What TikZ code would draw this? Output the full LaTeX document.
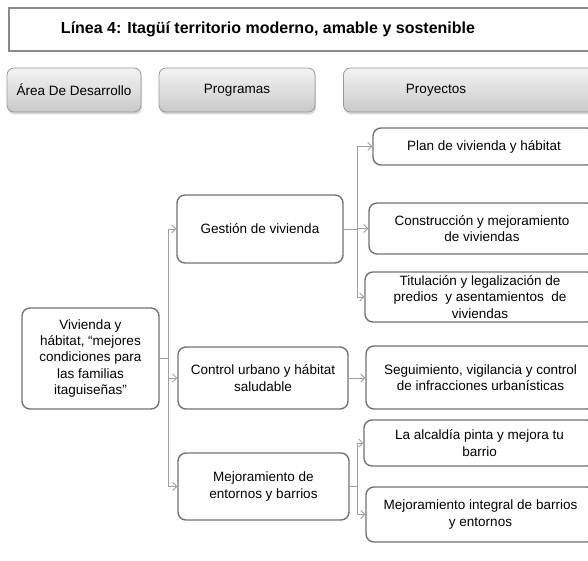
\documentclass[tikz,border=0pt]{standalone}
\usepackage{fontspec}
\setmainfont{Liberation Sans}
\usetikzlibrary{arrows.meta,shadows}
\definecolor{bordc}{HTML}{737373}
\definecolor{linec}{HTML}{A0A0A0}
\definecolor{titc}{HTML}{8A8A8A}
\definecolor{headtop}{HTML}{F4F4F4}
\definecolor{headbot}{HTML}{C9C9C9}
\begin{document}
\begin{tikzpicture}[x=1pt,y=-1pt,
  box/.style={draw=bordc, line width=1.4pt, rounded corners=8pt, fill=white, align=center,
    font=\fontsize{13.5}{16.3}\selectfont, inner sep=0pt},
  head/.style={draw=gray!80, line width=0.8pt, rounded corners=7pt, top color=headtop, bottom color=headbot,
    drop shadow={shadow xshift=1pt,shadow yshift=-2.5pt,opacity=0.3}, minimum height=44pt, inner sep=0pt},
  headtxt/.style={font=\fontsize{13.5}{16}\selectfont, inner sep=0pt},
  conn/.style={draw=linec, line width=1pt},
  arr/.style={conn, -{Straight Barb[length=4pt,width=8pt,line width=0.9pt]}},
]
\useasboundingbox (0,0) rectangle (588,561);
\clip (0,0) rectangle (588,561);
\fill[white] (0,0) rectangle (588,561);

% title
\node[draw=titc, line width=1.6pt, minimum width=600pt, minimum height=43pt, anchor=north west, inner sep=0pt] (title) at (8,7) {};
\node[font=\fontsize{16}{19}\selectfont\bfseries, inner sep=0pt] (titletext) at (268,29) {Línea 4: Itagüí territorio moderno, amable y sostenible};

% headers
\node[head, minimum width=134pt] (harea) at (74,90) {};
\node[headtxt] (hareat) at (74,90) {Área De Desarrollo};
\node[head, minimum width=156pt] (hprog) at (237,90) {};
\node[headtxt] (hprogt) at (237,90) {Programas};
\node[head, minimum width=257pt, anchor=west] (hproy) at (343,90) {};
\node[headtxt] (hproyt) at (436,90) {Proyectos};

% area
\node[box, minimum width=137pt, minimum height=101pt] (viv) at (90.5,358.5)
  {Vivienda y\\hábitat, “mejores\\condiciones para\\las familias\\itaguiseñas”};

% programs
\node[box, minimum width=166pt, minimum height=68pt] (gest) at (260,229) {Gestión de vivienda};
\node[box, minimum width=170pt, minimum height=62pt] (ctrl) at (263,378) {Control urbano y hábitat\\saludable};
\node[box, minimum width=171pt, minimum height=67pt] (mejp) at (263.5,486.5) {Mejoramiento de\\entornos y barrios};

% projects
\node[box, minimum width=222pt, minimum height=37pt] (plan) at (484,146.5) {Plan de vivienda y hábitat};
\node[box, minimum width=226pt, minimum height=51pt] (cons) at (482,228.5) {Construcción y mejoramiento\\de viviendas};
\node[box, minimum width=230pt, minimum height=50pt] (tit) at (480,297) {Titulación y legalización de\\predios \ y asentamientos \ de\\viviendas};
\node[box, minimum width=229pt, minimum height=63pt] (seg) at (480.5,377.5) {Seguimiento, vigilancia y control\\de infracciones urbanísticas};
\node[box, minimum width=231pt, minimum height=46pt] (alc) at (479.5,443) {La alcaldía pinta y mejora tu\\barrio};
\node[box, minimum width=229pt, minimum height=55pt] (integ) at (480.5,514.5) {Mejoramiento integral de barrios\\y entornos};

% connectors area -> programs
\coordinate (j1) at (168,358);
\draw[conn] (viv.east) -- (viv.east -| j1);
\draw[conn] (j1 |- gest.west) -- (j1 |- mejp.west);
\draw[arr] (j1 |- gest.west) -- (gest.west);
\draw[arr] (j1 |- ctrl.west) -- (ctrl.west);
\draw[arr] (j1 |- mejp.west) -- (mejp.west);

% gestion -> projects
\coordinate (j2) at (357,229);
\draw[conn] (gest.east) -- (gest.east -| j2);
\draw[conn] (j2 |- plan.west) -- (j2 |- tit.west);
\draw[arr] (j2 |- plan.west) -- (plan.west);
\draw[arr] (j2 |- cons.west) -- (cons.west);
\draw[arr] (j2 |- tit.west) -- (tit.west);

% control -> seguimiento
\draw[arr] (ctrl.east) -- (ctrl.east -| seg.west);

% mejoramiento -> projects
\coordinate (j3) at (357,486);
\draw[conn] (mejp.east) -- (mejp.east -| j3);
\draw[conn] (j3 |- alc.west) -- (j3 |- integ.west);
\draw[arr] (j3 |- alc.west) -- (alc.west);
\draw[arr] (j3 |- integ.west) -- (integ.west);
\end{tikzpicture}
\end{document}
